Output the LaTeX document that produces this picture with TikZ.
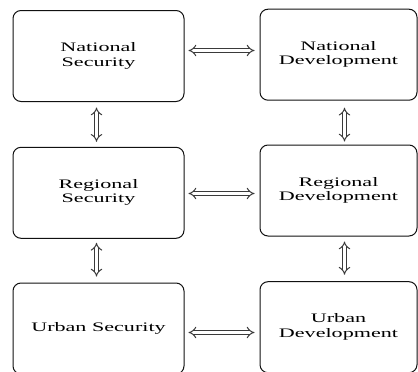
\documentclass[tikz,border=0pt]{standalone}
\usepackage{fontspec}
\setmainfont{Liberation Serif}
\usepackage{tikz}
\usetikzlibrary{arrows.meta}
\definecolor{boxcol}{HTML}{111111}
\definecolor{arrcol}{HTML}{3A3A3A}
\newcommand{\wtxt}[1]{\scalebox{1.7}[1]{\begin{tabular}{@{}c@{}}#1\end{tabular}}}

\begin{document}
\begin{tikzpicture}[x=1pt, y=-1pt,
  levelbox/.style={draw=boxcol, line width=1pt, rounded corners=8pt,
    minimum height=91pt, inner sep=0pt, font=\fontsize{13}{14.5}\selectfont},
  secbox/.style={levelbox, minimum width=171pt},
  devbox/.style={levelbox, minimum width=157pt},
  link/.style={draw=arrcol, line width=1pt, double, double distance=3pt,
    {Implies[scale=1.2]}-{Implies[scale=1.2]}}]

\useasboundingbox (0,0) rectangle (418,372);

% security column
\node[secbox] (ns) at (98.5,56) {\wtxt{National\\Security}};
\node[secbox] (rs) at (98.5,192.8) {\wtxt{Regional\\Security}};
\node[secbox] (us) at (98.5,328.5) {\wtxt{Urban Security}};

% development column
\node[devbox] (nd) at (338.5,54.7) {\wtxt{National\\Development}};
\node[devbox] (rd) at (338.5,190.5) {\wtxt{Regional\\Development}};
\node[devbox] (ud) at (338.5,327.2) {\wtxt{Urban\\Development}};

% across
\draw[link] ([xshift=4pt, yshift=5.5pt]ns.east) -- ([xshift=-5pt, yshift=5.5pt]ns.east -| nd.west);
\draw[link] ([xshift=4pt, yshift=-0.7pt]rs.east) -- ([xshift=-5pt, yshift=-0.7pt]rs.east -| rd.west);
\draw[link] ([xshift=4pt, yshift=-4pt]us.east) -- ([xshift=-5pt, yshift=-4pt]us.east -| ud.west);

% down
\draw[link] ([xshift=-2pt, yshift=-5.5pt]ns.south) -- ([xshift=-2pt, yshift=5pt]rs.north);
\draw[link] ([xshift=-2pt, yshift=-4pt]rs.south) -- ([xshift=-2pt, yshift=6pt]us.north);
\draw[link] ([xshift=6pt, yshift=-7pt]nd.south) -- ([xshift=6pt, yshift=3pt]rd.north);
\draw[link] ([xshift=6pt, yshift=-5pt]rd.south) -- ([xshift=6pt, yshift=6.5pt]ud.north);

\end{tikzpicture}
\end{document}
